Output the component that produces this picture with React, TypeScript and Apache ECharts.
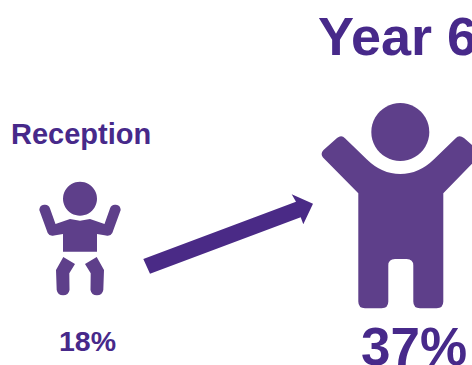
import React, { useEffect, useRef } from "react";
import * as echarts from "echarts";

const groups = ["Reception", "Year 6"];
const percentages = [18, 37];

const TEXT_COLOR = "#47298a";
const FIGURE_COLOR = "#5e3f8a";
const ARROW_COLOR = "#4a2a86";
const FONT = '"Liberation Sans", Arial, sans-serif';

// Small figure with raised arms and separate legs.
const BABY_PATH =
  "M63 251.7 L97 251.7 L97 234 L106 235.5 Q110.5 236.5 112.3 233 L120.7 210 A5.5 5.5 0 0 0 110 208.5 L104.5 224 L90 219 L80 220.8 L70 219 L55.5 224 L50 208.5 A5.5 5.5 0 0 0 39.3 210 L47.7 233 Q49.5 236.5 54 235.5 L63 234 Z " +
  "M63.3 257 L75 264 L69.3 273.3 L69.5 290 A6.5 6.5 0 0 1 56.7 290 L56 270 Z " +
  "M96.7 257 L85 264 L90.7 273.3 L90.5 290 A6.5 6.5 0 0 0 103.3 290 L104 270 Z";

// Large figure with both arms lifted and a notch between the legs.
const CHILD_PATH =
  "M358.3 193.3 L358.3 301.6 Q358.3 308.3 365 308.3 L381.6 308.3 Q388.3 308.3 388.3 301.6 L388.3 265.5 Q388.3 259 395 259 L406.6 259 Q413.3 259 413.3 265.5 L413.3 301.6 Q413.3 308.3 420 308.3 L436.6 308.3 Q443.3 308.3 443.3 301.6 L443.3 193.3 L478 157.5 Q480.5 153.5 477.5 150 L464 138 Q459 134.5 455.7 138.3 L434 159.3 Q419 174 400.3 174 Q381.6 174 366.7 159.3 L345 138.3 Q341.5 134.5 337 138 L323.5 150 Q320 153.5 323 157.5 Z";

const ARROW_POINTS = [
  [143.3, 259],
  [296, 201.7],
  [291.7, 194.3],
  [313, 203.7],
  [303.3, 224.3],
  [300.7, 217.3],
  [150, 273.7],
];

export default function App() {
  const ref = useRef<HTMLDivElement>(null);

  useEffect(() => {
    document.body.style.margin = "0";
    echarts.graphic.registerShape("babyFigure", echarts.graphic.extendPath(BABY_PATH, {}));
    echarts.graphic.registerShape("childFigure", echarts.graphic.extendPath(CHILD_PATH, {}));

    const chart = echarts.init(ref.current!, null, { renderer: "svg" });
    const label = (text: string, x: number, y: number, fontSize: number) => ({
      type: "text",
      x,
      y,
      style: {
        text,
        x: 0,
        y: 0,
        fill: TEXT_COLOR,
        font: `bold ${fontSize}px ${FONT}`,
        textAlign: "left",
        textVerticalAlign: "middle",
      },
    });

    chart.setOption({
      animation: false,
      backgroundColor: "#ffffff",
      graphic: [
        label(groups[0], 11, 134, 29),
        label(groups[1], 318, 36, 54),
        label(`${percentages[0]}%`, 59, 341, 28.5),
        label(`${percentages[1]}%`, 361, 346, 53),
        { type: "circle", shape: { cx: 80, cy: 198.7, r: 17 }, style: { fill: FIGURE_COLOR } },
        { type: "babyFigure", style: { fill: FIGURE_COLOR } },
        { type: "circle", shape: { cx: 400.3, cy: 132, r: 29 }, style: { fill: FIGURE_COLOR } },
        { type: "childFigure", style: { fill: FIGURE_COLOR } },
        { type: "polygon", shape: { points: ARROW_POINTS }, style: { fill: ARROW_COLOR } },
      ],
    });
    return () => chart.dispose();
  }, []);

  return <div ref={ref} style={{ width: 472, height: 365 }} />;
}
